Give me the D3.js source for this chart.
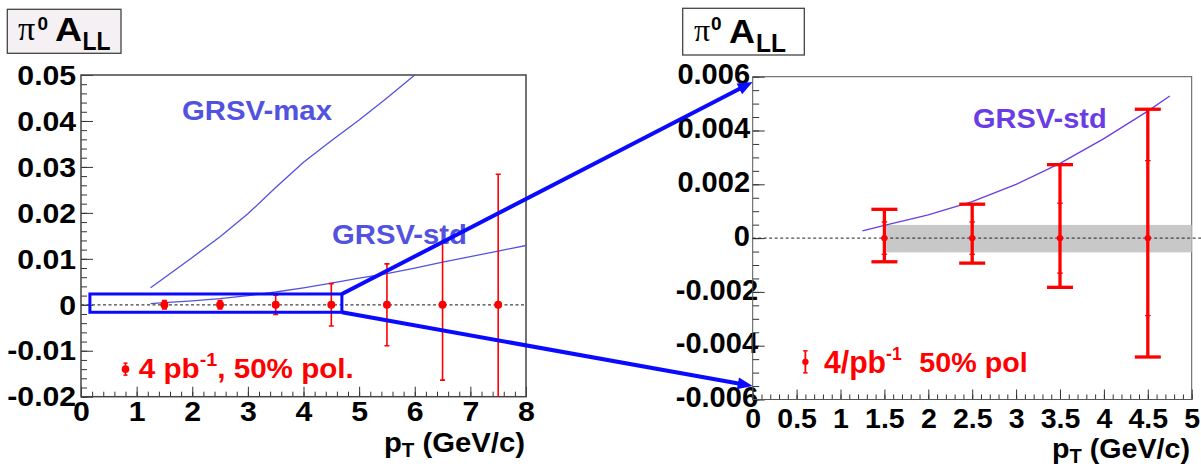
<!DOCTYPE html>
<html>
<head>
<meta charset="utf-8">
<script src="https://cdn.jsdelivr.net/npm/d3@7"></script>
<style>
  body { margin: 0; background: #fff; }
  svg text { font-family: "Liberation Sans", Arial, Helvetica, sans-serif; font-weight: bold; }
</style>
</head>
<body>
<svg id="chart" width="1201" height="467"></svg>
<script>
// ---- full pT range (left panel) ----
const binsWide = [1.5, 2.5, 3.5, 4.5, 5.5, 6.5, 7.5];
const allWide  = [0, 0, 0, 0, 0, 0, 0];
const errWide  = [0.0009, 0.0009, 0.0021, 0.0046, 0.0089, 0.0164, 0.0284];

const grsvMaxX = [1.25, 1.5, 2.0, 2.5, 3.0, 3.5, 4.0, 4.5, 5.0, 5.5, 6.0, 6.5];
const grsvMaxY = [0.0037, 0.0059, 0.0103, 0.0148, 0.0198, 0.0255, 0.0310, 0.0357, 0.0402, 0.0450, 0.0500, 0.0545];

const grsvStdX = [1.25, 1.5, 2.0, 2.5, 3.0, 3.5, 4.0, 4.5, 4.75, 5.0, 5.5, 6.0, 6.5, 7.0, 7.5, 8.0];
const grsvStdY = [0.00027, 0.00047, 0.00086, 0.00136, 0.0020, 0.00278, 0.0037, 0.00472, 0.00528, 0.0058, 0.0068, 0.0080, 0.0093, 0.0105, 0.0117, 0.0129];

const leftYTicks  = [-0.02, -0.01, 0, 0.01, 0.02, 0.03, 0.04, 0.05];
const leftYLabels = ["-0.02", "-0.01", "0", "0.01", "0.02", "0.03", "0.04", "0.05"];
const leftXTicks  = [0, 1, 2, 3, 4, 5, 6, 7, 8];
const leftXLabels = ["0", "1", "2", "3", "4", "5", "6", "7", "8"];

// zoom window drawn on the left panel (pT range, A_LL range)
const zoomBoxX = [0.16, 4.69];
const zoomBoxY = [-0.00163, 0.00235];

// ---- low pT detail (right panel) ----
const binsZoom  = [1.5, 2.5, 3.5, 4.5];
const allZoom   = [0, 0, 0, 0];
const errUp     = [0.00107, 0.00126, 0.00273, 0.00479];
const errDown   = [0.00088, 0.00093, 0.00183, 0.00442];
const statErr   = [0.0006, 0.0006, 0.0013, 0.00288];
const stdZoomX  = [1.25, 1.5, 2.0, 2.5, 3.0, 3.5, 4.0, 4.5, 4.75];
const stdZoomY  = [0.00027, 0.00047, 0.00086, 0.00136, 0.0020, 0.00278, 0.0037, 0.00472, 0.00528];
const bandX     = [1.52, 5.0];
const bandY     = [-0.00053, 0.00049];
const arrowTipY = [0.0058, -0.0055];

const rightYTicks  = [-0.006, -0.004, -0.002, 0, 0.002, 0.004, 0.006];
const rightYLabels = ["-0.006", "-0.004", "-0.002", "0", "0.002", "0.004", "0.006"];
const rightXTicks  = [0, 0.5, 1, 1.5, 2, 2.5, 3, 3.5, 4, 4.5, 5];
const rightXLabels = ["0", "0.5", "1", "1.5", "2", "2.5", "3", "3.5", "4", "4.5", "5"];

const RED = "#ff0000", BLUE = "#0a0aff", GRSV_L = "#5252e0", GRSV_R = "#6a3de4";

const svg = d3.select("#chart");
svg.append("rect").attr("width", 1201).attr("height", 467).attr("fill", "#fff");

const xL = d3.scaleLinear().domain([0, 8]).range([81, 526]);
const yL = d3.scaleLinear().domain([-0.02, 0.05]).range([396.7, 75]);
const xR = d3.scaleLinear().domain([0, 5]).range([752.7, 1191.7]);
const yR = d3.scaleLinear().domain([-0.006, 0.006]).range([399.5, 76.7]);

const defs = svg.append("defs");
function clipFor(id, x, y) {
  defs.append("clipPath").attr("id", id).append("rect")
    .attr("x", x.range()[0]).attr("y", y.range()[1])
    .attr("width", x.range()[1] - x.range()[0]).attr("height", y.range()[0] - y.range()[1]);
}
clipFor("clipL", xL, yL);
clipFor("clipR", xR, yR);

// frame with inward ticks and labels
function axes(x, y, o) {
  const g = svg.append("g");
  const x0 = x.range()[0], y0 = y.range()[0];
  const style = sel => sel.call(s => s.select(".domain").remove())
    .call(s => s.selectAll(".tick line").attr("stroke", o.tickColor).attr("stroke-width", 1));

  g.append("g").attr("transform", `translate(${x0},0)`)
    .call(d3.axisLeft(y).tickValues(y.ticks(o.yMinorN)).tickSize(-o.yMinorLen).tickFormat("")).call(style);
  g.append("g").attr("transform", `translate(0,${y0})`)
    .call(d3.axisBottom(x).tickValues(x.ticks(o.xMinorN)).tickSize(-o.xMinorLen).tickFormat("")).call(style);

  const gy = g.append("g").attr("transform", `translate(${x0},0)`)
    .call(d3.axisLeft(y).tickValues(o.yTicks).tickSize(-o.yMajorLen).tickPadding(o.yPad)
      .tickFormat((d, i) => o.yLabels[i])).call(style);
  gy.selectAll(".tick text")
    .style("font-size", o.yFont + "px").style("font-family", '"Liberation Sans", Arial, sans-serif')
    .style("font-weight", "bold").attr("fill", "#000").attr("dy", o.yDy)
    .attr("transform", (d) => `translate(${d < 0 ? o.negShift : 0},0) scale(${o.sx},1)`);

  const gx = g.append("g").attr("transform", `translate(0,${y0})`)
    .call(d3.axisBottom(x).tickValues(o.xTicks).tickSize(-o.xMajorLen).tickPadding(o.xPad)
      .tickFormat((d, i) => o.xLabels[i])).call(style);
  gx.selectAll(".tick text")
    .style("font-size", o.xFont + "px").style("font-family", '"Liberation Sans", Arial, sans-serif')
    .style("font-weight", "bold").attr("fill", "#000")
    .attr("transform", `scale(${o.sx},1)`);

  g.append("rect").attr("x", x0).attr("y", y.range()[1])
    .attr("width", x.range()[1] - x0).attr("height", y0 - y.range()[1])
    .attr("fill", "none").attr("stroke", o.frame).attr("stroke-width", o.frameW);

  // axis title p_T (GeV/c)
  const t = svg.append("text").attr("x", o.titleX).attr("y", o.titleY)
    .attr("font-size", o.titleFont).attr("fill", "#000")
    .attr("textLength", o.titleLen).attr("lengthAdjust", "spacingAndGlyphs");
  t.append("tspan").text("p");
  t.append("tspan").attr("font-size", o.titleFont * 0.7).attr("dy", 5).text("T");
  t.append("tspan").attr("dy", -5).text(" (GeV/c)");
}

function titleBox(o) {
  svg.append("rect").attr("x", o.x).attr("y", o.y).attr("width", o.w).attr("height", o.h)
    .attr("fill", o.fill).attr("stroke", "#444").attr("stroke-width", 1.3);
  svg.append("text").attr("x", o.piX).attr("y", o.piY)
    .style("font-family", '"Liberation Serif", "Times New Roman", serif').style("font-weight", "normal")
    .attr("font-size", o.piFont).attr("fill", "#000").text("\u03c0");
  svg.append("text").attr("x", o.supX).attr("y", o.supY).attr("font-size", 19).attr("fill", "#000").text("0");
  svg.append("text").attr("x", o.aX).attr("y", o.aY).attr("font-size", o.aFont).attr("fill", "#000")
    .attr("textLength", o.aLen).attr("lengthAdjust", "spacingAndGlyphs").text("A");
  svg.append("text").attr("x", o.llX).attr("y", o.llY).attr("font-size", o.llFont).attr("fill", "#000")
    .attr("textLength", o.llLen).attr("lengthAdjust", "spacingAndGlyphs").text("LL");
}

function stretchedText(x, y, str, size, len, color) {
  return svg.append("text").attr("x", x).attr("y", y).attr("font-size", size).attr("fill", color)
    .attr("textLength", len).attr("lengthAdjust", "spacingAndGlyphs").text(str);
}

// ================= left panel =================
axes(xL, yL, {
  yMinorN: 35, xMinorN: 40, yMinorLen: 6, xMinorLen: 5, yMajorLen: 12, xMajorLen: 10,
  yTicks: leftYTicks, yLabels: leftYLabels, xTicks: leftXTicks, xLabels: leftXLabels,
  yPad: 4.5, xPad: 4.5, yFont: 28, xFont: 28, yDy: "0.33em", sx: 1.08, negShift: 0,
  tickColor: "#333", frame: "#444", frameW: 1.5,
  titleX: 384, titleY: 452, titleFont: 28, titleLen: 141
});

const pl = svg.append("g").attr("clip-path", "url(#clipL)");
pl.append("line").attr("x1", xL(0)).attr("x2", xL(8)).attr("y1", yL(0)).attr("y2", yL(0))
  .attr("stroke", "#444").attr("stroke-width", 1.3).attr("stroke-dasharray", "3,2.5");

const lineL = d3.line().x(d => xL(d[0])).y(d => yL(d[1]));
pl.append("path").attr("d", lineL(d3.zip(grsvMaxX, grsvMaxY)))
  .attr("fill", "none").attr("stroke", GRSV_L).attr("stroke-width", 1.3);
pl.append("path").attr("d", lineL(d3.zip(grsvStdX, grsvStdY)))
  .attr("fill", "none").attr("stroke", GRSV_L).attr("stroke-width", 1.3);

binsWide.forEach((b, i) => {
  const cx = xL(b), v = allWide[i], e = errWide[i];
  pl.append("line").attr("x1", cx).attr("x2", cx).attr("y1", yL(v - e)).attr("y2", yL(v + e))
    .attr("stroke", RED).attr("stroke-width", 1.6);
  [v - e, v + e].forEach(t => pl.append("line").attr("x1", cx - 2.5).attr("x2", cx + 2.5)
    .attr("y1", yL(t)).attr("y2", yL(t)).attr("stroke", RED).attr("stroke-width", 1.6));
  pl.append("circle").attr("cx", cx).attr("cy", yL(v)).attr("r", 4).attr("fill", RED);
});

stretchedText(182, 120, "GRSV-max", 27, 150, GRSV_L);
stretchedText(332, 243.5, "GRSV-std", 27, 135, GRSV_L);

// legend
{
  const ax = xL(0.8), ay = yL(-0.014);
  svg.append("line").attr("x1", ax).attr("x2", ax).attr("y1", ay - 6).attr("y2", ay + 6).attr("stroke", RED).attr("stroke-width", 1.5);
  [-6, 6].forEach(d => svg.append("line").attr("x1", ax - 2).attr("x2", ax + 2).attr("y1", ay + d).attr("y2", ay + d).attr("stroke", RED).attr("stroke-width", 1.5));
  svg.append("circle").attr("cx", ax).attr("cy", ay).attr("r", 3.8).attr("fill", RED);
  const t = svg.append("text").attr("x", ax + 13.3).attr("y", ay + 9.3).attr("font-size", 27).attr("fill", RED)
    .attr("textLength", 215).attr("lengthAdjust", "spacingAndGlyphs");
  t.append("tspan").text("4 pb");
  t.append("tspan").attr("font-size", 18).attr("dy", -12).text("-1");
  t.append("tspan").attr("dy", 12).text(", 50% pol.");
}

titleBox({ x: 7.3, y: 9.3, w: 113.7, h: 44, fill: "#f4f0f4",
  piX: 18, piY: 39.5, piFont: 34, supX: 37.5, supY: 30, aX: 55, aY: 41, aFont: 34, aLen: 27,
  llX: 82.5, llY: 50, llFont: 25, llLen: 28 });

// ================= right panel =================
axes(xR, yR, {
  yMinorN: 24, xMinorN: 50, yMinorLen: 6.5, xMinorLen: 5, yMajorLen: 12, xMajorLen: 10,
  yTicks: rightYTicks, yLabels: rightYLabels, xTicks: rightXTicks, xLabels: rightXLabels,
  yPad: 2.7, xPad: 8, yFont: 29, xFont: 28.5, yDy: "0.25em", sx: 1.0, negShift: 8,
  tickColor: "#333", frame: "#555", frameW: 1,
  titleX: 1052, titleY: 457.5, titleFont: 28.5, titleLen: 138
});

const pr = svg.append("g");
pr.append("rect").attr("x", xR(bandX[0])).attr("y", yR(bandY[1]))
  .attr("width", xR(bandX[1]) - xR(bandX[0])).attr("height", yR(bandY[0]) - yR(bandY[1]))
  .attr("fill", "#c8c8c8");
pr.append("line").attr("x1", xR(0)).attr("x2", 1201).attr("y1", yR(0)).attr("y2", yR(0))
  .attr("stroke", "#222").attr("stroke-width", 1).attr("stroke-dasharray", "3,2.5");

const lineR = d3.line().x(d => xR(d[0])).y(d => yR(d[1]));
pr.append("path").attr("d", lineR(d3.zip(stdZoomX, stdZoomY)))
  .attr("fill", "none").attr("stroke", GRSV_R).attr("stroke-width", 1.3);

binsZoom.forEach((b, i) => {
  const cx = xR(b), v = allZoom[i];
  pr.append("line").attr("x1", cx).attr("x2", cx).attr("y1", yR(v - errDown[i])).attr("y2", yR(v + errUp[i]))
    .attr("stroke", RED).attr("stroke-width", 3.3);
  [v - errDown[i], v + errUp[i]].forEach(t => pr.append("line").attr("x1", cx - 13).attr("x2", cx + 13)
    .attr("y1", yR(t)).attr("y2", yR(t)).attr("stroke", RED).attr("stroke-width", 3.3));
  [v - statErr[i], v + statErr[i]].forEach(t => pr.append("line").attr("x1", cx - 2.8).attr("x2", cx + 2.8)
    .attr("y1", yR(t)).attr("y2", yR(t)).attr("stroke", RED).attr("stroke-width", 1.3));
  pr.append("circle").attr("cx", cx).attr("cy", yR(v)).attr("r", 3.2).attr("fill", RED);
});

stretchedText(973, 128.3, "GRSV-std", 27, 133.6, GRSV_R);

// legend
{
  const ax = xR(0.6), ay = yR(-0.0046);
  svg.append("line").attr("x1", ax).attr("x2", ax).attr("y1", ay - 11).attr("y2", ay + 11).attr("stroke", RED).attr("stroke-width", 1.8);
  [-11, 11].forEach(d => svg.append("line").attr("x1", ax - 2.2).attr("x2", ax + 2.2).attr("y1", ay + d).attr("y2", ay + d).attr("stroke", RED).attr("stroke-width", 1.5));
  svg.append("circle").attr("cx", ax).attr("cy", ay).attr("r", 3.2).attr("fill", RED);
  const t = svg.append("text").attr("x", ax + 18.6).attr("y", ay + 10.7).attr("font-size", 31).attr("fill", RED)
    .attr("textLength", 77.7).attr("lengthAdjust", "spacingAndGlyphs");
  t.append("tspan").text("4/pb");
  t.append("tspan").attr("font-size", 18).attr("dy", -13).text("-1");
  stretchedText(ax + 114, ay + 10.4, "50% pol", 27.5, 108.4, RED);
}

titleBox({ x: 682.7, y: 8.3, w: 121.6, h: 46.7, fill: "#fff",
  piX: 694, piY: 41, piFont: 32, supX: 711, supY: 30, aX: 729, aY: 42.5, aFont: 34, aLen: 26,
  llX: 756, llY: 51.5, llFont: 25, llLen: 30 });

// ================= zoom box and connecting arrows =================
const bx0 = xL(zoomBoxX[0]), bx1 = xL(zoomBoxX[1]);
const by0 = yL(zoomBoxY[1]), by1 = yL(zoomBoxY[0]);
svg.append("rect").attr("x", bx0).attr("y", by0).attr("width", bx1 - bx0).attr("height", by1 - by0)
  .attr("fill", "none").attr("stroke", BLUE).attr("stroke-width", 3);

function arrow(x1, y1, x2, y2) {
  const dx = x2 - x1, dy = y2 - y1, L = Math.hypot(dx, dy);
  const ux = dx / L, uy = dy / L, hl = 15, hw = 6;
  const bxp = x2 - ux * hl, byp = y2 - uy * hl;
  svg.append("line").attr("x1", x1).attr("y1", y1).attr("x2", bxp + ux * 2).attr("y2", byp + uy * 2)
    .attr("stroke", BLUE).attr("stroke-width", 4);
  svg.append("polygon").attr("fill", BLUE)
    .attr("points", [[x2, y2], [bxp - uy * hw, byp + ux * hw], [bxp + uy * hw, byp - ux * hw]].map(p => p.join(",")).join(" "));
}
arrow(bx1, by0, xR(0), yR(arrowTipY[0]));
arrow(bx1, by1, xR(0), yR(arrowTipY[1]));
</script>
</body>
</html>
